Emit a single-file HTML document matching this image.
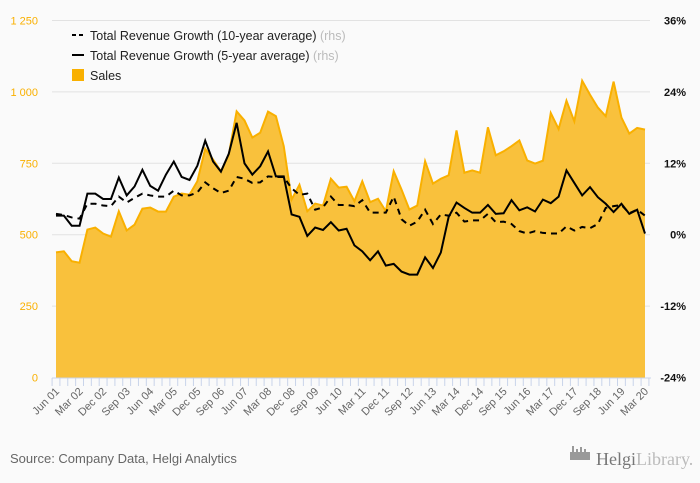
<!DOCTYPE html>
<html><head><meta charset="utf-8"><style>
body{margin:0;background:#fafafa;font-family:"Liberation Sans",sans-serif}
svg{display:block}
</style></head><body>
<svg id="c" width="700" height="483" xmlns="http://www.w3.org/2000/svg">
<rect width="700" height="483" fill="#fafafa"/>
<g id="grid"></g><g id="area"></g><g id="lines"></g><g id="axes"></g>
<g font-size="12.5" fill="#222">
<line x1="72" y1="35" x2="84" y2="35" stroke="#000" stroke-width="2" stroke-dasharray="4,3"/>
<text x="90" y="40">Total Revenue Growth (10-year average) <tspan fill="#bbb">(rhs)</tspan></text>
<line x1="72" y1="55" x2="84" y2="55" stroke="#000" stroke-width="2"/>
<text x="90" y="60">Total Revenue Growth (5-year average) <tspan fill="#bbb">(rhs)</tspan></text>
<rect x="72" y="69" width="12" height="12" fill="#f9b000"/>
<text x="90" y="80">Sales</text>
</g>
<text x="10" y="463" font-size="13" fill="#666">Source: Company Data, Helgi Analytics</text>
<g>
<rect x="570" y="452" width="20" height="8" fill="#999"/>
<rect x="572" y="446" width="2" height="8" fill="#999"/><rect x="576" y="449" width="2" height="6" fill="#999"/><rect x="580" y="447" width="2" height="8" fill="#999"/><rect x="584" y="449" width="2" height="6" fill="#999"/>
<text x="596" y="465" font-family="Liberation Serif,serif" font-size="18" fill="#777">Helgi<tspan fill="#bbb">Library.</tspan></text>
</g>
</svg>
<script>
const cats=[];(function(){const m=["Mar","Jun","Sep","Dec"];for(let y=2001,q=1;!(y===2020&&q===1)||cats.length<76;){cats.push(m[q]+" "+String(y%100).padStart(2,"0"));q++;if(q>3){q=0;y++;}if(cats.length>=76)break;}})();
const sales=[438,442,407,402,518,525,504,493,582,515,535,591,595,581,581,633,644,640,687,801,763,722,780,932,900,840,857,931,915,810,623,675,582,609,602,696,665,668,617,687,614,626,582,722,658,588,602,757,679,696,708,865,717,725,717,876,778,792,810,830,760,749,759,926,870,969,897,1039,990,945,915,1036,910,854,874,868];
const g5=[3.2,3.2,1.5,1.5,6.9,6.9,6.0,6.0,9.6,6.6,8.1,10.9,8.2,7.4,10.1,12.3,9.7,9.2,11.6,15.8,12.3,10.6,13.6,18.8,12.0,10.1,11.5,14.0,9.8,9.8,3.4,3.0,-0.2,1.2,0.8,2.1,0.7,1.0,-1.8,-2.8,-4.3,-2.8,-5.2,-4.9,-6.2,-6.7,-6.7,-3.8,-5.6,-3.0,3.0,5.4,4.5,3.7,3.7,5.0,3.5,3.6,5.8,4.1,4.6,3.9,5.9,5.3,6.4,10.8,8.7,6.6,8.0,6.3,5.2,3.8,5.2,3.5,4.2,0.2];
const g10=[3.5,3.3,2.9,2.7,5.2,5.2,4.9,4.8,6.4,5.4,6.2,6.9,6.6,6.4,6.4,7.4,6.6,6.6,7.1,8.8,7.8,7.0,7.4,9.7,9.4,8.7,8.8,9.8,9.7,9.7,7.8,6.7,6.9,4.2,4.6,6.4,5.0,5.0,4.8,5.8,3.7,3.7,3.7,6.4,2.6,1.5,2.2,4.2,1.8,3.4,3.2,3.7,2.2,2.4,2.4,3.5,2.1,2.2,1.8,0.6,0.2,0.6,0.3,0.2,0.2,1.4,0.7,1.3,1.1,1.8,4.5,4.8,5.0,3.6,4.2,3.2];
const leftTicks=[0,250,500,750,1000,1250];
const leftLabels=["0","250","500","750","1 000","1 250"];
const rightTicks=[-24,-12,0,12,24,36];
const rightLabels=["-24%","-12%","0%","12%","24%","36%"];
const X0=56,X1=645,YB=377.5,YT=20.5,NS="http://www.w3.org/2000/svg";
const x=i=>X0+i*(X1-X0)/(cats.length-1);
const yL=v=>YB-(v/1250)*(YB-YT);
const yR=v=>YB-((v+24)/60)*(YB-YT);
function mk(t,a,p){const e=document.createElementNS(NS,t);for(const k in a)e.setAttribute(k,a[k]);p.appendChild(e);return e;}
const grid=document.getElementById('grid'),axes=document.getElementById('axes');
leftTicks.forEach((v,i)=>{
 if(v>0){const l=mk('line',{x1:52,x2:650,y1:yL(v),y2:yL(v),stroke:'#e2e2e2'},grid);
 
 }
 const t=mk('text',{x:38,y:yL(v)+4,'text-anchor':'end','font-size':'11',fill:'#f9b000'},axes);t.textContent=leftLabels[i];
 
 
});
rightTicks.forEach((v,i)=>{
 const t=mk('text',{x:686,y:yR(v)+4,'text-anchor':'end','font-size':'11','font-weight':'bold',fill:'#111'},axes);t.textContent=rightLabels[i];
 
 
});
let d='M'+x(0)+','+YB;sales.forEach((v,i)=>d+=' L'+x(i)+','+yL(v));d+=' L'+x(sales.length-1)+','+YB+'Z';
const ar=mk('path',{d:d,fill:'#f9c13c'},document.getElementById('area'));


const sl=mk('polyline',{points:sales.map((v,i)=>x(i)+','+yL(v)).join(' '),fill:'none',stroke:'#f9b000','stroke-width':'2'},document.getElementById('area'));


const lg=document.getElementById('lines');
const l10=mk('polyline',{points:g10.map((v,i)=>x(i)+','+yR(v)).join(' '),fill:'none',stroke:'#000','stroke-width':'2','stroke-dasharray':'6,5'},lg);


const l5=mk('polyline',{points:g5.map((v,i)=>x(i)+','+yR(v)).join(' '),fill:'none',stroke:'#000','stroke-width':'2'},lg);


const ax=mk('line',{x1:52,x2:651,y1:378,y2:378,stroke:'#c9d4ea'},axes);


const step=(X1-X0)/(cats.length-1);
for(let i=0;i<=cats.length;i++){const tx=X0-step/2+i*step;const tk=mk('line',{x1:tx,x2:tx,y1:378,y2:386,stroke:'#c9d4ea'},axes);
 
 }
cats.forEach((c,i)=>{if(i%3)return;const t=mk('text',{x:x(i)+4,y:392,'text-anchor':'end','font-size':'11',fill:'#666',transform:'rotate(-45 '+(x(i)+4)+' 392)'},axes);t.textContent=c;
 
 });
</script>
</body></html>
